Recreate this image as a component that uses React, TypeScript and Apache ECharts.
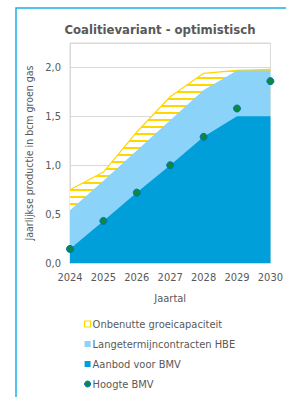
import React, { useEffect, useRef } from "react";
import * as echarts from "echarts";

const years = ["2024", "2025", "2026", "2027", "2028", "2029", "2030"];
const onbenutteTop = [0.75, 0.93, 1.34, 1.7, 1.94, 1.97, 1.98];
const langetermijnTop = [0.54, 0.84, 1.15, 1.46, 1.77, 1.97, 1.97];
const aanbodBMV = [0.144, 0.43, 0.72, 1.0, 1.29, 1.5, 1.5];
const hoogteBMV = [0.144, 0.43, 0.72, 1.0, 1.29, 1.58, 1.86];

const FONT = "'DejaVu Sans Condensed', 'DejaVu Sans', sans-serif";
const GRAY = "#595959";
const YELLOW = "#FFD700";
const LIGHT = "#8CD3FA";
const DARK = "#009FDA";

export default function App() {
  const ref = useRef<HTMLDivElement>(null);
  useEffect(() => {
    document.body.style.margin = "0";
    const chart = echarts.init(ref.current!, null, { renderer: "svg" });
    chart.setOption({
      animation: false,
      backgroundColor: "#fff",
      textStyle: { fontFamily: FONT },
      title: {
        text: "Coalitievariant - optimistisch",
        left: 155,
        top: 18,
        textAlign: "center",
        textStyle: { fontFamily: FONT, fontSize: 13, fontWeight: "bold", color: GRAY },
      },
      graphic: [
        {
          type: "rect",
          shape: { x: 16, y: 8, width: 320, height: 420 },
          style: { fill: "none", stroke: "#1AB0E8", lineWidth: 1.5 },
          silent: true,
        },
      ],
      grid: {
        left: 70,
        right: 15,
        top: 43,
        bottom: 134,
        show: true,
        borderColor: "#D9D9D9",
        borderWidth: 1,
      },
      legend: {
        orient: "vertical",
        left: 84,
        top: 317,
        padding: 0,
        height: 80,
        itemWidth: 6,
        itemHeight: 6,
        itemGap: 6,
        textStyle: { fontFamily: FONT, fontSize: 11, color: GRAY, padding: [0, 0, 0, -3], lineHeight: 14 },
        data: [
          { name: "Onbenutte groeicapaciteit", icon: "rect", itemStyle: { color: "#fff", borderColor: YELLOW, borderWidth: 1.2, decal: "none" } },
          { name: "Langetermijncontracten HBE", icon: "rect", itemStyle: { color: LIGHT } },
          { name: "Aanbod voor BMV", icon: "rect", itemStyle: { color: DARK } },
          { name: "Hoogte BMV", icon: "circle", itemStyle: { color: "#0B8A3C", borderColor: "#0070C0", borderWidth: 1 } },
        ],
      },
      xAxis: {
        type: "category",
        data: years,
        boundaryGap: false,
        name: "Jaartal",
        nameLocation: "middle",
        nameGap: 30,
        nameTextStyle: { fontFamily: FONT, fontSize: 11, color: GRAY },
        axisLine: { lineStyle: { color: "#D9D9D9" } },
        axisTick: { show: false },
        axisLabel: { fontFamily: FONT, fontSize: 11, color: GRAY, margin: 9 },
      },
      yAxis: {
        type: "value",
        min: 0,
        max: 2.25,
        interval: 0.5,
        name: "Jaarlijkse productie in bcm groen gas",
        nameLocation: "middle",
        nameGap: 34,
        nameTextStyle: { fontFamily: FONT, fontSize: 10.5, color: GRAY },
        axisLine: { show: true, lineStyle: { color: "#D9D9D9" } },
        axisTick: { show: false },
        splitLine: { lineStyle: { color: "#D9D9D9" } },
        axisLabel: {
          fontFamily: FONT,
          fontSize: 11,
          color: GRAY,
          margin: 9,
          formatter: (v: number) => (Math.abs(v * 2 - Math.round(v * 2)) < 1e-6 ? v.toFixed(1).replace(".", ",") : ""),
        },
      },
      series: [
        {
          name: "Onbenutte groeicapaciteit",
          type: "line",
          data: onbenutteTop,
          symbol: "none",
          lineStyle: { color: YELLOW, width: 1.2 },
          itemStyle: {
            color: YELLOW,
            decal: {
              symbol: "rect",
              symbolSize: 1,
              dashArrayX: [1, 0],
              dashArrayY: [2, 5],
              rotation: 0,
              color: YELLOW,
              backgroundColor: "#fff",
            },
          },
          areaStyle: { color: "#fff", opacity: 1 },
          z: 2,
        },
        {
          name: "Langetermijncontracten HBE",
          type: "line",
          data: langetermijnTop,
          symbol: "none",
          lineStyle: { width: 0, color: LIGHT },
          itemStyle: { color: LIGHT },
          areaStyle: { color: LIGHT, opacity: 1 },
          z: 3,
        },
        {
          name: "Aanbod voor BMV",
          type: "line",
          data: aanbodBMV,
          symbol: "none",
          lineStyle: { width: 0, color: DARK },
          itemStyle: { color: DARK },
          areaStyle: { color: DARK, opacity: 1 },
          z: 4,
        },
        {
          name: "Hoogte BMV",
          type: "scatter",
          data: hoogteBMV,
          symbolSize: 7,
          itemStyle: { color: "#0B8A3C", borderColor: "#0070C0", borderWidth: 1, opacity: 1 },
          z: 5,
        },
      ],
    });
    return () => chart.dispose();
  }, []);
  return <div ref={ref} style={{ width: 286, height: 397 }} />;
}
